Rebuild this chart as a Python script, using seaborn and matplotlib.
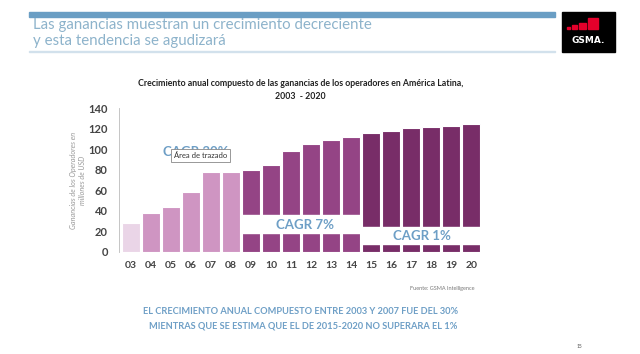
import pandas as pd
import seaborn as sns
import matplotlib.pyplot as plt
from matplotlib.patches import Rectangle

# datos (millones de USD)
anios = ['03', '04', '05', '06', '07', '08', '09', '10', '11',
         '12', '13', '14', '15', '16', '17', '18', '19', '20']
ganancias = [28, 38, 44, 58, 78, 78, 80, 85, 98,
             105, 109, 112, 116, 118, 121, 122, 123, 125]
periodo = ['base'] + ['2004-2008'] * 5 + ['2009-2014'] * 6 + ['2015-2020'] * 6
colores = {'base': '#EDD2E9', '2004-2008': '#D98BC8',
           '2009-2014': '#A1378E', '2015-2020': '#85206F'}

df = pd.DataFrame({'anio': anios, 'ganancias': ganancias, 'periodo': periodo})

sns.set_style('white')
plt.rcParams['font.family'] = ['Lato', 'DejaVu Sans']

fig = plt.figure(figsize=(6.4, 3.54), dpi=100)
ax = fig.add_axes([0.186, 0.289, 0.566, 0.405])

sns.barplot(data=df, x='anio', y='ganancias', hue='periodo', palette=colores,
            dodge=False, legend=False, width=0.88, edgecolor='white',
            linewidth=0.8, ax=ax)

ax.set_ylim(0, 140)
ax.set_xlim(-0.6, 17.5)
ax.set_yticks(range(0, 141, 20))
ax.set_xlabel('')
ax.set_ylabel('Ganancias de los Operadores en\nmillones de USD', fontsize=5.2,
              style='italic', color='#9a9a9a', labelpad=2)
ax.tick_params(axis='y', length=3, width=0.6, color='#bbbbbb', labelsize=8,
               labelcolor='#444444', pad=5)
ax.tick_params(axis='x', length=0, labelsize=7.5, labelcolor='#444444', pad=7)
for t in ax.get_xticklabels() + ax.get_yticklabels():
    t.set_fontweight('bold')
for s in ['top', 'right', 'bottom']:
    ax.spines[s].set_visible(False)
ax.spines['left'].set_color('#bbbbbb')
ax.spines['left'].set_linewidth(0.6)

# bandas blancas con las etiquetas CAGR
ax.add_patch(Rectangle((5.5, 18), 6.0, 18, color='white', zorder=3))
ax.add_patch(Rectangle((11.5, 7.5), 6.0, 16.5, color='white', zorder=3))
cagr = '#6E9FC6'
ax.text(8.7, 26.5, 'CAGR 7%', ha='center', va='center', color=cagr,
        fontsize=9.5, fontweight='bold', zorder=4)
ax.text(14.55, 15.5, 'CAGR 1%', ha='center', va='center', color=cagr,
        fontsize=9.5, fontweight='bold', zorder=4)
# etiqueta tapada por el recuadro emergente, como en el original
ax.text(1.6, 97, 'CAGR 30%', ha='left', va='center', color=cagr,
        fontsize=9.5, fontweight='bold', zorder=4)
ax.text(2.15, 94, 'Área de trazado', ha='left', va='center', color='#333333',
        fontsize=5.5, zorder=5,
        bbox=dict(boxstyle='square,pad=0.35', fc='white', ec='#888888', lw=0.6))

# titulo del grafico
fig.text(0.469, 0.757, 'Crecimiento anual compuesto de las ganancias de los operadores en América Latina,',
         ha='center', fontsize=6.3, fontweight='bold', color='#222222')
fig.text(0.469, 0.72, '2003  - 2020', ha='center', fontsize=6.3,
         fontweight='bold', color='#222222')

# cabecera
fig.patches.append(Rectangle((0.045, 0.951), 0.822, 0.014, color='#6A9EC4',
                             transform=fig.transFigure, figure=fig))
fig.patches.append(Rectangle((0.045, 0.853), 0.822, 0.004, color='#D2E1EC',
                             transform=fig.transFigure, figure=fig))
fig.text(0.052, 0.917, 'Las ganancias muestran un crecimiento decreciente',
         fontsize=10.8, color='#8DB3CB', va='baseline')
fig.text(0.052, 0.873, 'y esta tendencia se agudizará',
         fontsize=10.8, color='#8DB3CB', va='baseline')

# logo GSMA
fig.patches.append(Rectangle((0.878, 0.853), 0.083, 0.114, color='black',
                             transform=fig.transFigure, figure=fig))
for x, y, w, h in [(0.886, 0.918, 0.004, 0.006), (0.893, 0.918, 0.008, 0.011),
                   (0.904, 0.918, 0.012, 0.018), (0.919, 0.918, 0.016, 0.032)]:
    fig.patches.append(Rectangle((x, y), w, h, color='#E4002B',
                                 transform=fig.transFigure, figure=fig))
fig.text(0.919, 0.885, 'GSMA.', ha='center', va='center', color='white',
         fontsize=6.5, fontweight='bold', family=['DejaVu Sans'])

# fuente y textos inferiores
fig.text(0.741, 0.186, 'Fuente: GSMA Intelligence', ha='right', va='center',
         fontsize=4, color='#777777')
fig.text(0.469, 0.121, 'EL CRECIMIENTO ANUAL COMPUESTO ENTRE 2003 Y 2007 FUE DEL 30%',
         ha='center', va='center', fontsize=6.7, fontweight='bold', color='#6E9FC6')
fig.text(0.474, 0.079, 'MIENTRAS QUE SE ESTIMA QUE EL DE 2015-2020 NO SUPERARA EL 1%',
         ha='center', va='center', fontsize=6.7, fontweight='bold', color='#6E9FC6')
fig.text(0.905, 0.02, '15', ha='center', va='center', fontsize=3.5, color='#555555')

fig.savefig('out.png', dpi=100)
